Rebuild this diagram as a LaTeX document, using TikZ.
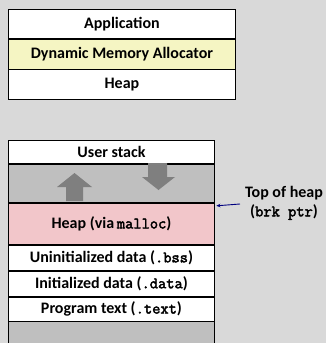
\documentclass[tikz,border=0pt]{standalone}
\usepackage{fontspec}
\setmainfont{Carlito}
\setmonofont[AutoFakeBold=2.5]{Latin Modern Mono}
\usepackage{xcolor}
\definecolor{bggray}{RGB}{217,217,217}
\definecolor{gapgray}{RGB}{191,191,191}
\definecolor{arrowgray}{RGB}{127,127,127}
\definecolor{heappink}{RGB}{242,198,202}
\definecolor{allocyellow}{RGB}{245,245,195}
\definecolor{ptrblue}{RGB}{0,0,128}
\usetikzlibrary{arrows.meta, positioning, calc}

\tikzset{
  seg/.style={draw=black, line width=0.9pt, fill=white, inner sep=0pt,
              font=\bfseries\fontsize{16}{19}\selectfont},
  topseg/.style={seg, minimum width=227pt, minimum height=29.3pt},
  memseg/.style={seg, minimum width=206pt},
  ptr/.style={-{Stealth[length=4pt,width=3.5pt]}, ptrblue, line width=0.9pt}
}

\begin{document}
\begin{tikzpicture}[x=1pt, y=-1pt]
  % Background
  \fill[bggray] (0,0) rectangle (326,343);
  \useasboundingbox (0,0) rectangle (326,343);

  % Software stack
  \node[topseg, anchor=north west] (app) at (8,9) {Application};
  \node[topseg, fill=allocyellow, below=0pt of app] (alloc) {Dynamic Memory Allocator};
  \node[topseg, below=0pt of alloc] (heapsw) {Heap};

  % Process memory image
  \node[memseg, minimum height=23pt, anchor=north west] (stack) at (8,140) {User stack};
  \node[memseg, minimum height=38pt, fill=gapgray, below=0pt of stack] (gap) {};
  \node[memseg, minimum height=41pt, fill=heappink, below=0pt of gap] (heap) {Heap (via\,\texttt{malloc})};
  \node[memseg, minimum height=25pt, below=0pt of heap] (bss) {Uninitialized data (\texttt{.bss})};
  \node[memseg, minimum height=25pt, below=0pt of bss] (data) {Initialized data (\texttt{.data})};
  \node[memseg, minimum height=24pt, below=0pt of data] (text) {Program text (\texttt{.text})};
  \node[memseg, minimum height=25pt, fill=gapgray, below=0pt of text] (bottom) {};

  % Growth arrows
  \fill[arrowgray] (66,201) -- (66,187) -- (57,187) -- (74.5,173) -- (92,187)
    -- (83,187) -- (83,201) -- cycle;
  \fill[arrowgray] (148,163) -- (148,177) -- (142,177) -- (158.5,190) -- (175,177)
    -- (167,177) -- (167,163) -- cycle;

  % Break pointer
  \node[font=\bfseries\fontsize{16}{19}\selectfont, align=center] (brklabel) at (284,203)
    {Top of heap\\(\texttt{brk ptr})};
  \coordinate (brk) at (240,204);
  \draw[ptr] (brk) -- ($(heap.north east)+(1.5pt,-3pt)$);
\end{tikzpicture}
\end{document}
